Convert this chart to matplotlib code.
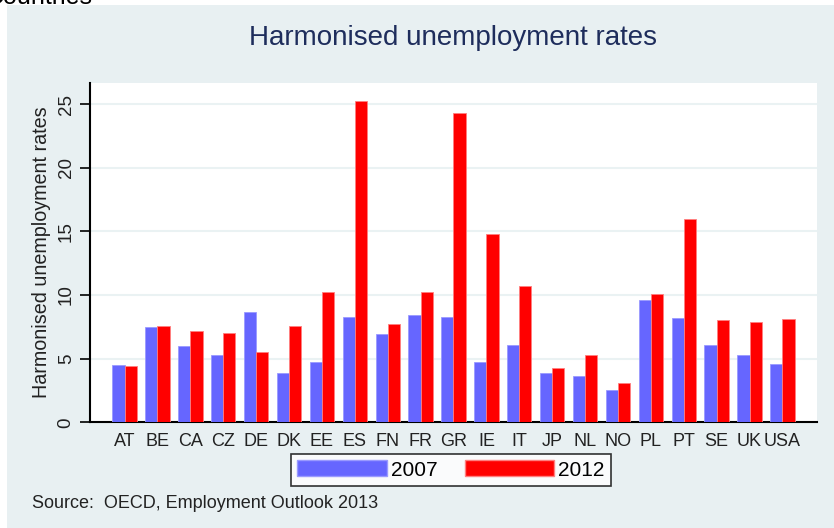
import matplotlib
matplotlib.use("Agg")
import matplotlib.pyplot as plt
from matplotlib.patches import Rectangle, Patch
import numpy as np

countries = ["AT", "BE", "CA", "CZ", "DE", "DK", "EE", "ES", "FN", "FR", "GR",
             "IE", "IT", "JP", "NL", "NO", "PL", "PT", "SE", "UK", "USA"]
rate_2007 = [4.5, 7.5, 6.0, 5.3, 8.7, 3.9, 4.7, 8.3, 6.9, 8.4, 8.3,
             4.7, 6.1, 3.9, 3.6, 2.5, 9.6, 8.2, 6.1, 5.3, 4.6]
rate_2012 = [4.4, 7.6, 7.2, 7.0, 5.5, 7.6, 10.2, 25.2, 7.7, 10.2, 24.3,
             14.8, 10.7, 4.3, 5.3, 3.1, 10.1, 16.0, 8.0, 7.9, 8.1]
yticks = [0, 5, 10, 15, 20, 25]

BLUE = "#6666FF"
RED = "#FF0000"
BG = "#E8F0F2"
FONT = "Liberation Sans"

plt.rcParams["font.family"] = [FONT, "DejaVu Sans"]

W, H = 834, 528
fig = plt.figure(figsize=(W / 100, H / 100), dpi=100)
fig.patch.set_facecolor("white")
fig.patches.append(Rectangle((7 / W, 0), 1 - 7 / W, 1 - 5 / H,
                             transform=fig.transFigure, facecolor=BG,
                             edgecolor="none", zorder=-10))

# text from above, cut off at the top edge as in the reference
fig.text(-14 / W, 1 - 4 / H, "Countries", fontsize=18, color="black",
         va="baseline", ha="left")

ax = fig.add_axes([90 / W, 1 - 422.3 / H, (817 - 90) / W, (422.3 - 83) / H])
ax.set_facecolor("white")

x = np.arange(len(countries))
bw = 0.37
ax.bar(x - bw / 2, rate_2007, width=bw, color=BLUE, edgecolor="#9a9aff",
       linewidth=0.6, zorder=3, label="2007")
ax.bar(x + bw / 2, rate_2012, width=bw, color=RED, edgecolor="#ff7f7f",
       linewidth=0.6, zorder=3, label="2012")

ax.set_xlim(-1.05, 21.05)
ax.set_ylim(0, 26.65)
ax.set_xticks(x)
ax.set_xticklabels(countries, fontsize=13, color="#222222")
ax.tick_params(axis="x", length=0, pad=8)
ax.set_yticks(yticks)
ax.set_yticklabels([str(t) for t in yticks], rotation=90, va="center",
                   fontsize=13.5, color="#222222")
ax.tick_params(axis="y", length=7, width=1.2, pad=4, color="black")

for v in yticks[1:]:
    ax.axhline(v, color="#EAF2F3", linewidth=1.5, zorder=1)

for s in ["top", "right"]:
    ax.spines[s].set_visible(False)
for s in ["left", "bottom"]:
    ax.spines[s].set_linewidth(1.5)
    ax.spines[s].set_color("black")

ax.set_ylabel("Harmonised unemployment rates", fontsize=14.2, color="#222222",
              labelpad=5)

fig.text(453 / W, 1 - 38 / H, "Harmonised unemployment rates", fontsize=20,
         color="#1E2D5C", ha="center", va="center")

handles = [Patch(facecolor=BLUE, edgecolor="#9a9aff"),
           Patch(facecolor=RED, edgecolor="#ff7f7f")]
leg = fig.legend(handles, ["2007", "2012"], ncol=2, loc="center",
                 bbox_to_anchor=(451 / W, 1 - 470 / H), fontsize=15,
                 frameon=True, fancybox=False, handlelength=4.3,
                 handleheight=0.8, handletextpad=0.2, columnspacing=1.3,
                 borderpad=0.3, labelspacing=0.2)
leg.get_frame().set_edgecolor("black")
leg.get_frame().set_linewidth(1.2)
leg.get_frame().set_facecolor("white")

fig.text(32 / W, 1 - 503 / H, "Source:  OECD, Employment Outlook 2013",
         fontsize=13, color="#222222", ha="left", va="center")

fig.savefig("out.png", dpi=100, facecolor=fig.get_facecolor())
